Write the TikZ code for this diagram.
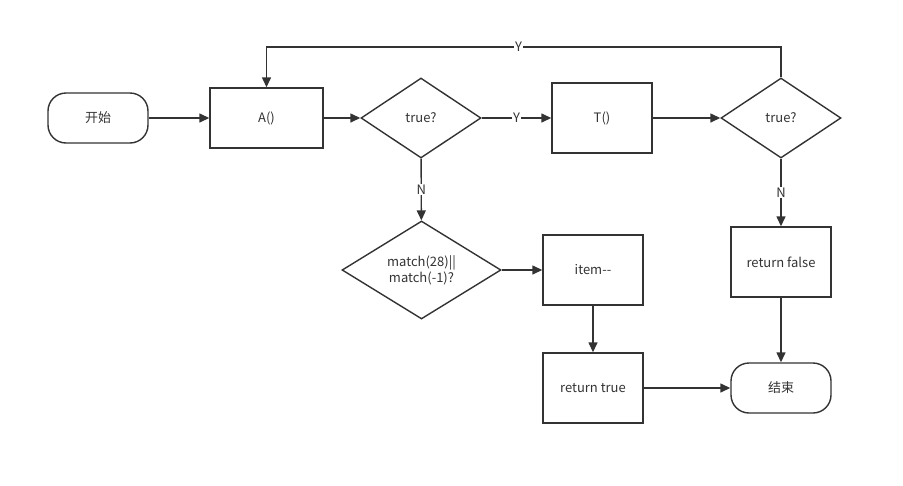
\documentclass[tikz,border=0pt]{standalone}
\usepackage{fontspec}
\setmainfont{Noto Sans CJK SC}
\usetikzlibrary{shapes.geometric,arrows.meta}
\definecolor{ln}{HTML}{333333}
\begin{document}
\begin{tikzpicture}[x=1pt,y=-1pt,
  base/.style={draw=ln,line width=1.4pt,font=\fontsize{13}{16}\selectfont,text=ln,inner sep=0pt,align=center},
  term/.style={base,rectangle,rounded corners=18pt,minimum width=100pt,minimum height=50pt},
  arr/.style={draw=ln,line width=1.4pt,-{Triangle[length=10pt,width=9pt]}},
  lbl/.style={fill=white,inner sep=1pt,text=ln,font=\fontsize{13}{14}\selectfont}]
\useasboundingbox (0,0) rectangle (903,485);
\node[term] (start) at (98,118) {开始};
\node[base,minimum width=113pt,minimum height=60pt] (A) at (266.5,118) {A()};
\node[base,diamond,minimum width=120pt,minimum height=80pt,aspect=1.5] (d1) at (421,118) {true?};
\node[base,minimum width=100pt,minimum height=70pt] (T) at (602,118) {T()};
\node[base,diamond,minimum width=120pt,minimum height=80pt,aspect=1.5] (d2) at (781,118) {true?};
\node[base,diamond,minimum width=159pt,minimum height=98pt,aspect=1.62] (d3) at (421.5,270) {match(28)||\\match(-1)?};
\node[base,minimum width=100pt,minimum height=70pt] (item) at (593,270) {item{-}{-}};
\node[base,minimum width=100pt,minimum height=70pt] (rt) at (593,388) {return true};
\node[base,minimum width=100pt,minimum height=70pt] (rf) at (781,262) {return false};
\node[term] (end) at (781,388) {结束};
\coordinate (c1) at (781,47);
\coordinate (c2) at (266.5,47);
\draw[arr] (start) -- (A);
\draw[arr] (A) -- (d1);
\draw[arr] (d1) -- node[lbl,pos=0.5]{Y} (T);
\draw[arr] (T) -- (d2);
\draw[arr] (d2.north) -- (c1) -- node[lbl,pos=0.51]{Y} (c2) -- (A.north);
\draw[arr] (d1) -- node[lbl,pos=0.5]{N} (d3);
\draw[arr] (d2) -- node[lbl,pos=0.5]{N} (rf);
\draw[arr] (d3) -- (item);
\draw[arr] (item) -- (rt);
\draw[arr] (rf) -- (end);
\draw[arr] (rt) -- (end);
\end{tikzpicture}
\end{document}
